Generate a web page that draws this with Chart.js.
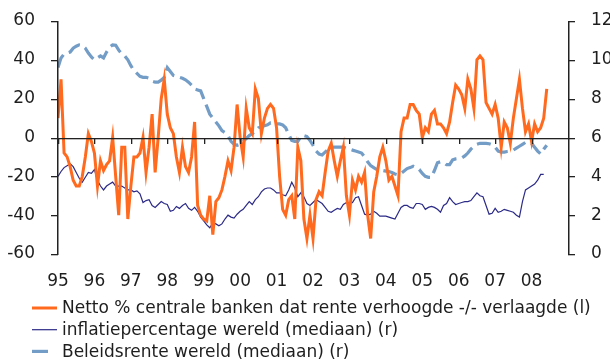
<!DOCTYPE html>
<html><head><meta charset="utf-8">
<script src="https://cdn.jsdelivr.net/npm/chart.js@4/dist/chart.umd.min.js"></script>
<style>html,body{margin:0;padding:0;background:#fff}</style>
</head><body>
<canvas id="c" width="610" height="360"></canvas>
<script>
const startYear = 1995;
const endYear = 2009;
const yearTickLabels = ['95','96','97','98','99','00','01','02','03','04','05','06','07','08'];
const seriesNames = [
  'Netto % centrale banken dat rente verhoogde -/- verlaagde (l)',
  'inflatiepercentage wereld (mediaan) (r)',
  'Beleidsrente wereld (mediaan) (r)'
];
// monthly values from Jan 1995
const nettoBanken = [10,30,-8,-10,-15,-22,-25,-25,-20,-10,2,-2,
  -8,-25,-12,-17,-14,-12,0,-20,-40,-5,-5,-42,
  -25,-10,-10,-8,0,-18,-5,12,-18,0,20,30,
  12,5,2,-10,-18,-5,-15,-18,-10,8,-35,-40,
  -42,-43,-30,-50,-33,-31,-27,-20,-12,-17,-5,17,
  0,-10,15,5,2,25,20,2,10,15,17,15,
  5,-20,-37,-40,-32,-30,-42,-5,-12,-42,-52,-40,
  -52,-32,-28,-30,-18,-7,-3,-12,-20,-12,-5,-30,
  -40,-22,-27,-20,-23,-18,-40,-52,-28,-20,-10,-5,
  -12,-22,-20,-25,-30,3,10,10,17,17,14,12,
  0,5,3,12,14,7,7,5,2,8,18,27,
  25,22,15,30,25,15,40,42,40,18,15,12,
  17,10,-5,8,5,-3,10,20,30,15,3,7,
  -2,7,3,5,10,25];
const inflatie = [4.0,4.25,4.45,4.55,4.65,4.5,4.2,3.9,3.7,3.95,4.2,4.15,
  4.35,3.8,3.5,3.3,3.5,3.6,3.7,3.5,3.5,3.5,3.4,3.3,
  3.3,3.2,3.25,3.1,2.65,2.75,2.8,2.5,2.4,2.55,2.7,2.6,
  2.55,2.2,2.25,2.45,2.35,2.5,2.6,2.35,2.25,2.4,2.2,1.9,
  1.7,1.5,1.35,1.6,1.55,1.45,1.55,1.8,2.0,1.9,1.85,2.05,
  2.2,2.3,2.5,2.7,2.55,2.8,2.95,3.2,3.35,3.4,3.4,3.3,
  3.15,3.15,3.05,3.0,3.3,3.7,3.4,2.95,3.15,2.95,2.6,2.5,
  2.65,2.8,2.7,2.6,2.4,2.2,2.15,2.25,2.35,2.3,2.55,2.65,
  2.65,2.65,2.9,2.95,2.5,2.05,2.0,2.05,2.2,2.1,1.95,1.95,
  1.95,1.9,1.85,1.8,2.1,2.4,2.5,2.5,2.4,2.35,2.6,2.6,
  2.55,2.3,2.4,2.45,2.4,2.3,2.15,2.5,2.6,2.9,2.7,2.55,
  2.6,2.65,2.7,2.7,2.75,2.95,3.15,3.0,2.95,2.5,2.05,2.1,
  2.35,2.15,2.2,2.3,2.25,2.2,2.15,2.0,1.9,2.7,3.3,3.4,
  3.5,3.6,3.8,4.1,4.1];
const beleidsrente = [9.6,10.1,10.3,10.35,10.4,10.6,10.7,10.77,10.75,10.6,10.35,10.15,
  10.0,10.1,10.2,10.1,10.4,10.65,10.77,10.75,10.5,10.3,10.2,10.0,
  9.7,9.45,9.3,9.15,9.1,9.1,9.05,8.9,8.85,8.85,8.95,9.1,
  9.6,9.4,9.2,9.15,9.1,9.05,8.97,8.85,8.7,8.5,8.45,8.4,
  8.0,7.6,7.2,7.0,6.8,6.6,6.35,6.25,6.1,5.8,5.65,5.6,
  5.65,5.8,5.95,6.1,6.2,6.35,6.5,6.55,6.6,6.65,6.75,6.75,
  6.7,6.7,6.65,6.5,6.15,5.85,5.8,5.8,6.05,6.1,6.05,5.85,
  5.6,5.3,5.15,5.1,5.25,5.4,5.5,5.5,5.5,5.5,5.5,5.45,
  5.4,5.35,5.3,5.25,5.2,5.0,4.75,4.55,4.45,4.35,4.33,4.3,
  4.27,4.25,4.2,4.12,4.07,4.15,4.27,4.4,4.45,4.52,4.45,4.35,
  4.15,4.0,3.95,3.95,4.3,4.7,4.75,4.72,4.6,4.6,4.85,4.9,
  4.92,4.95,5.05,5.2,5.4,5.55,5.65,5.7,5.7,5.7,5.68,5.62,
  5.5,5.3,5.25,5.25,5.28,5.3,5.35,5.45,5.55,5.65,5.75,5.72,
  5.7,5.5,5.3,5.15,5.4,5.6];

const COLORS = ['#FF6A1E', '#2B2A86', '#739DC6'];
const FONT = 'DejaVu Sans';
const TEXT = '#1e1e1e';
const AXIS = '#222222';

const monthly = arr => arr.map((v, i) => ({ x: startYear + i / 12, y: v }));
const noPad = s => { s.paddingTop = 0; s.paddingBottom = 0; };

const axesAndLegend = {
  id: 'axesAndLegend',
  afterDraw(chart) {
    const { ctx, chartArea, scales } = chart;
    const L = Math.round(chartArea.left), R = Math.round(chartArea.right);
    const T = Math.round(chartArea.top), B = Math.round(chartArea.bottom);
    const yy = Math.round(scales.y.getPixelForValue(0));
    ctx.save();
    ctx.fillStyle = AXIS;
    ctx.fillRect(L - 1, T, 1.5, B - T + 1);
    ctx.fillRect(R, T, 1.5, B - T + 1);
    scales.y.ticks.forEach(t => {
      const py = Math.round(scales.y.getPixelForValue(t.value));
      ctx.fillRect(L - 7, py, 7, 1.3);
    });
    scales.y1.ticks.forEach(t => {
      const py = Math.round(scales.y1.getPixelForValue(t.value));
      ctx.fillRect(R, py, 7, 1.3);
    });
    ctx.fillRect(L, yy, R - L, 1.3);
    scales.x.ticks.forEach(t => {
      const px = Math.round(scales.x.getPixelForValue(t.value));
      ctx.fillRect(px, yy, 1.3, 6);
    });
    ctx.restore();

    ctx.save();
    ctx.font = '17px "' + FONT + '"';
    ctx.textBaseline = 'middle';
    ctx.fillStyle = TEXT;
    chart.data.datasets.forEach((ds, i) => {
      const ly = 308 + i * 21.7;
      ctx.save();
      ctx.strokeStyle = ds.borderColor;
      ctx.lineWidth = ds.borderWidth;
      ctx.setLineDash(ds.borderDash ? [16, 20] : []);
      ctx.beginPath(); ctx.moveTo(32, ly); ctx.lineTo(57, ly); ctx.stroke();
      ctx.restore();
      ctx.fillText(ds.label, 62, ly + 1);
    });
    ctx.restore();
  }
};

new Chart(document.getElementById('c'), {
  type: 'line',
  data: {
    datasets: [
      { label: seriesNames[0], data: monthly(nettoBanken), borderColor: COLORS[0], borderWidth: 3, yAxisID: 'y', pointRadius: 0, tension: 0 },
      { label: seriesNames[1], data: monthly(inflatie), borderColor: COLORS[1], borderWidth: 1.2, yAxisID: 'y1', pointRadius: 0, tension: 0 },
      { label: seriesNames[2], data: monthly(beleidsrente), borderColor: COLORS[2], borderWidth: 3.2, borderDash: [14, 6], yAxisID: 'y1', pointRadius: 0, tension: 0 }
    ]
  },
  options: {
    responsive: false,
    animation: false,
    layout: { padding: { left: 0, right: 0, top: 21, bottom: 70 } },
    plugins: { legend: { display: false }, tooltip: { enabled: false } },
    scales: {
      x: {
        type: 'linear', min: startYear, max: endYear,
        afterFit: s => { s.height = 36; s.paddingLeft = 0; s.paddingRight = 0; },
        afterBuildTicks: s => { s.ticks = yearTickLabels.map((_, i) => ({ value: startYear + i })); },
        grid: { display: false }, border: { display: false },
        ticks: { autoSkip: false, maxRotation: 0, padding: 9, color: TEXT, font: { family: FONT, size: 17 },
          callback: (v) => yearTickLabels[Math.round(v - startYear)] ?? '' }
      },
      y: {
        position: 'left', min: -60, max: 60,
        afterFit: s => { s.width = 58; noPad(s); },
        grid: { display: false }, border: { display: false },
        ticks: { stepSize: 20, padding: 15, color: TEXT, font: { family: FONT, size: 17 } }
      },
      y1: {
        position: 'right', min: 0, max: 12,
        afterFit: s => { s.width = 42; noPad(s); },
        grid: { display: false }, border: { display: false },
        ticks: { stepSize: 2, padding: 15, color: TEXT, font: { family: FONT, size: 17 } }
      }
    }
  },
  plugins: [axesAndLegend]
});
</script>
</body></html>
